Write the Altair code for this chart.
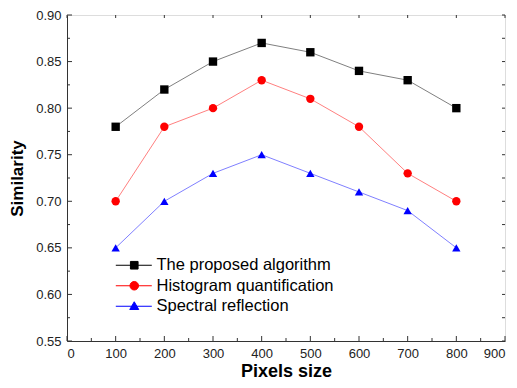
import altair as alt
import pandas as pd

pixels = [100, 200, 300, 400, 500, 600, 700, 800]
proposed = [0.78, 0.82, 0.85, 0.87, 0.86, 0.84, 0.83, 0.80]
histogram = [0.70, 0.78, 0.80, 0.83, 0.81, 0.78, 0.73, 0.70]
spectral = [0.65, 0.70, 0.73, 0.75, 0.73, 0.71, 0.69, 0.65]
series = ["The proposed algorithm", "Histogram quantification", "Spectral reflection"]
colors = ["#000000", "#ff0000", "#0000ff"]
shapes = ["square", "circle", "triangle-up"]
x_major = [0, 100, 200, 300, 400, 500, 600, 700, 800, 900]
x_minor = [50, 150, 250, 350, 450, 550, 650, 750, 850]
y_major = [0.55, 0.60, 0.65, 0.70, 0.75, 0.80, 0.85, 0.90]
y_minor = [0.575, 0.625, 0.675, 0.725, 0.775, 0.825, 0.875]

rows = []
for name, vals in zip(series, [proposed, histogram, spectral]):
    for p, v in zip(pixels, vals):
        rows.append({"series": name, "pixels": p, "sim": v})
df = pd.DataFrame(rows)

W, H = 438, 326
FONT = "Liberation Sans, Arial, sans-serif"
TICK = "#333333"

xs = alt.Scale(domain=[0, 900], nice=False, zero=False)
ys = alt.Scale(domain=[0.55, 0.90], nice=False, zero=False)
cs = alt.Scale(domain=series, range=colors)
ss = alt.Scale(domain=series, range=shapes)

# legend symbols: a short line with the marker in its middle
legend_paths = [
    "M-4.1,0H3.9M-0.85,-0.85H0.85V0.85H-0.85Z",
    "M-4.1,0H3.9M-0.95,0A0.95,0.95 0 1,0 0.95,0A0.95,0.95 0 1,0 -0.95,0Z",
    "M-4.1,0H3.9M0,-1.0L1.0,0.72L-1.0,0.72Z",
]
ls = alt.Scale(domain=series, range=legend_paths)

base = alt.Chart(df)

lines = base.mark_line(strokeWidth=1, opacity=0.5).encode(
    x=alt.X("pixels:Q", scale=xs, axis=alt.Axis(
        orient="bottom", values=x_major, ticks=False, tickSize=0, grid=False,
        domain=True, domainColor=TICK, labelFont=FONT, labelFontSize=13,
        labelColor="#222222", labelPadding=6, title="Pixels size",
        titleFont=FONT, titleFontSize=18, titleFontWeight="bold",
        titleColor="#000000", titlePadding=2, format="d")),
    y=alt.Y("sim:Q", scale=ys, axis=alt.Axis(
        orient="left", values=y_major, ticks=False, tickSize=0, grid=False,
        domain=True, domainColor=TICK, labelFont=FONT, labelFontSize=13,
        labelColor="#222222", labelPadding=6, format=".2f", title="Similarity",
        titleFont=FONT, titleFontSize=17, titleFontWeight="bold",
        titleColor="#000000", titlePadding=9)),
    color=alt.Color("series:N", scale=cs, legend=None),
    detail="series:N",
)

points = base.mark_point(filled=True, opacity=1, size=70).encode(
    x=alt.X("pixels:Q", scale=xs, axis=None),
    y=alt.Y("sim:Q", scale=ys, axis=None),
    color=alt.Color("series:N", scale=cs, legend=None),
    shape=alt.Shape("series:N", scale=ss, legend=None),
)


def x_ticks(vals, y0, y1):
    return alt.Chart(pd.DataFrame({"v": vals})).mark_rule(
        color=TICK, strokeWidth=1).encode(
        x=alt.X("v:Q", scale=xs, axis=None),
        y=alt.value(y0), y2=alt.value(y1))


def y_ticks(vals, x0, x1):
    return alt.Chart(pd.DataFrame({"v": vals})).mark_rule(
        color=TICK, strokeWidth=1).encode(
        y=alt.Y("v:Q", scale=ys, axis=None),
        x=alt.value(x0), x2=alt.value(x1))


tick_layers = [
    x_ticks(x_major, H, H - 5),
    x_ticks(x_minor, H, H - 3),
    x_ticks(x_major, 0, 3),
    y_ticks(y_major, 0, 5),
    y_ticks(y_minor, 0, 3),
    y_ticks(y_major + y_minor, W, W - 3),
]

leg_opts = dict(
    orient="none", legendX=45, legendY=242, title=None,
    labelFont=FONT, labelFontSize=16.5, labelColor="#000000", labelLimit=400,
    symbolSize=81, symbolOffset=14, labelOffset=14, rowPadding=3.5,
    padding=0, symbolStrokeWidth=1, symbolOpacity=1,
)
legend_layer = base.transform_filter("false").mark_point(strokeWidth=1).encode(
    fill=alt.Fill("series:N", scale=cs, legend=alt.Legend(**leg_opts)),
    stroke=alt.Stroke("series:N", scale=cs, legend=alt.Legend(**leg_opts)),
    shape=alt.Shape("series:N", scale=ls, legend=alt.Legend(**leg_opts)),
)

chart = alt.layer(lines, points, *tick_layers, legend_layer).resolve_axis(
    x="independent", y="independent"
).resolve_scale(
    shape="independent", fill="independent", stroke="independent"
).properties(
    width=W, height=H,
    autosize=alt.AutoSizeParams(type="none"),
    padding={"left": 59, "top": 7, "right": 4, "bottom": 39},
).configure_view(stroke=TICK, strokeWidth=1).configure(background="#ffffff")

chart.save("out.html", embed_options={"renderer": "svg", "actions": False})
